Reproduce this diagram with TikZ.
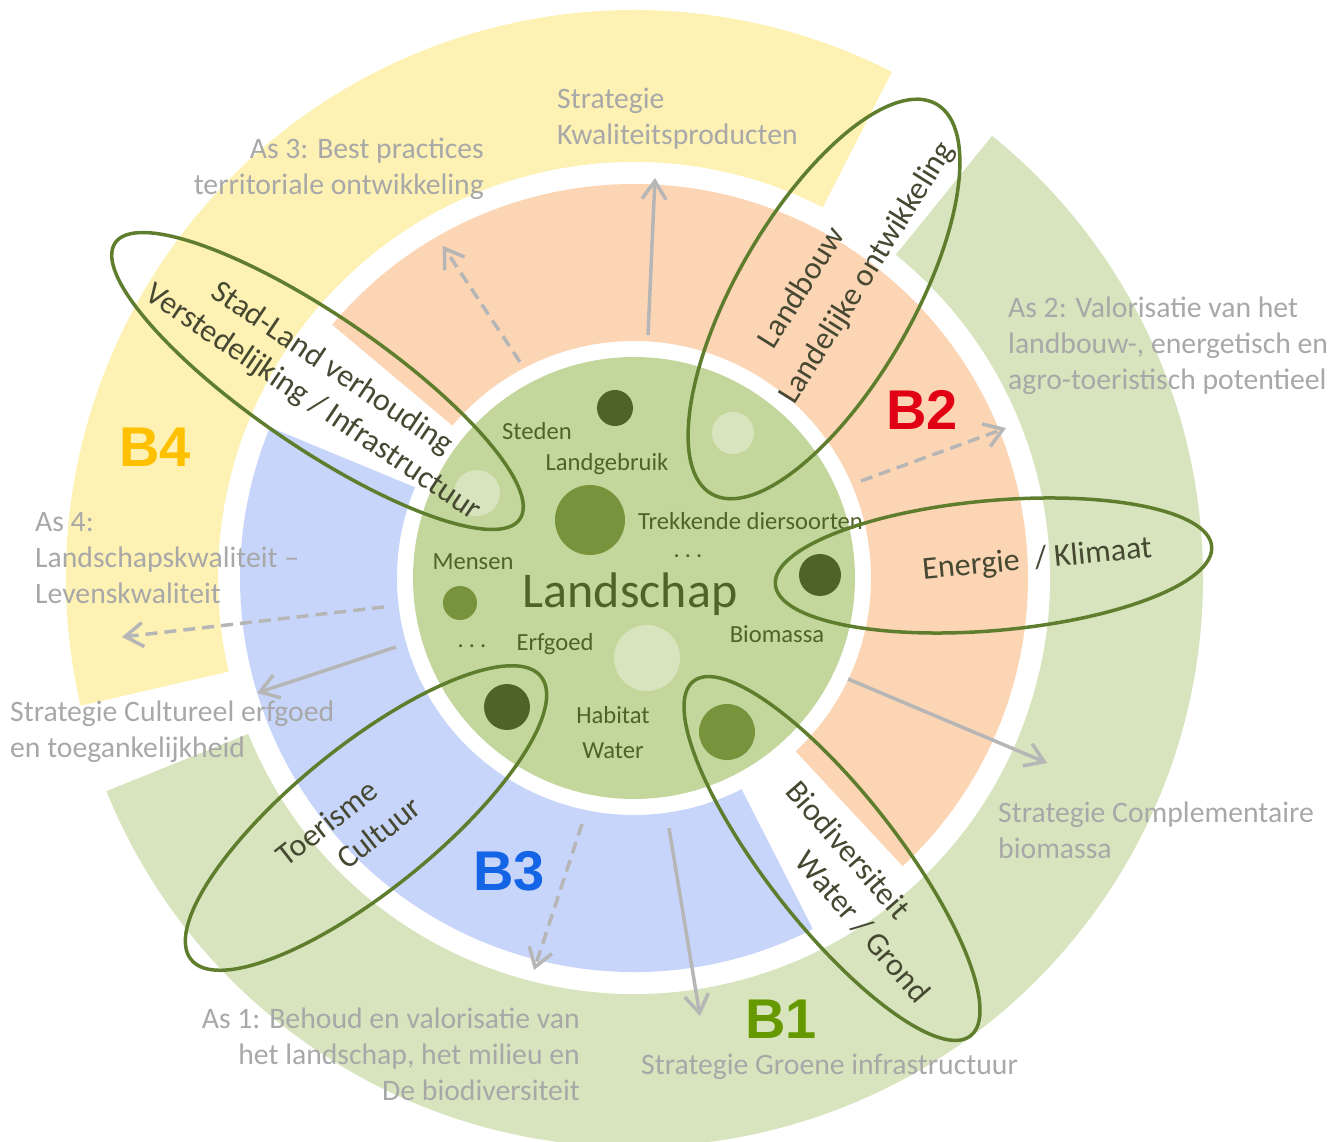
\documentclass[tikz,border=0pt]{standalone}
\usepackage{fontspec}
\setmainfont{Carlito}
\newfontfamily\arialfam{Liberation Sans}
\usetikzlibrary{arrows.meta,shapes.geometric}
\definecolor{yel}{RGB}{254,241,180}
\definecolor{sal}{RGB}{252,213,181}
\definecolor{blu}{RGB}{199,213,250}
\definecolor{ogr}{RGB}{215,228,189}
\definecolor{igr}{RGB}{195,214,155}
\definecolor{dkg}{RGB}{79,98,40}
\definecolor{mdg}{RGB}{119,147,60}
\definecolor{ltg}{RGB}{216,228,190}
\definecolor{ell}{RGB}{95,126,45}
\definecolor{lblc}{RGB}{168,168,168}
\definecolor{arrc}{RGB}{182,182,182}
\definecolor{txtc}{RGB}{70,72,50}
\definecolor{bone}{RGB}{102,153,0}
\definecolor{btwo}{RGB}{225,0,20}
\definecolor{bthree}{RGB}{20,100,230}
\definecolor{bfour}{RGB}{255,192,0}
\newcommand{\ringseg}[5]{\fill[#1] (#2:#4pt) arc[start angle=#2,end angle=#3,radius=#4pt] -- (#3:#5pt) arc[start angle=#3,end angle=#2,radius=#5pt] -- cycle;}
\tikzset{
  dotc/.style={circle, inner sep=0pt},
  petal/.style={ellipse, draw=ell, line width=3.5pt, inner sep=0pt},
  garrow/.style={draw=arrc, line width=3.5pt, -{Straight Barb[length=18pt,width=24pt]}},
  gdash/.style={garrow, dash pattern=on 12pt off 7pt},
  lbl/.style={text=lblc, font=\fontsize{29.7}{36}\selectfont, inner sep=0pt},
  intxt/.style={text=dkg, font=\fontsize{24.6}{29}\selectfont, inner sep=0pt, text height=16pt, text depth=0pt},
  rtxt/.style={text=txtc, font=\fontsize{32}{38}\selectfont, inner sep=0pt, text height=20.8pt, text depth=0pt},
  bigb/.style={font=\arialfam\bfseries\fontsize{56}{60}\selectfont, inner sep=0pt}
}
\begin{document}
\begin{tikzpicture}[x=1pt,y=1pt]
\useasboundingbox (-634,-564) rectangle (709,578);
\clip (-634,-564) rectangle (709,578);
% outer band
\ringseg{yel}{63}{193}{416}{568}
\ringseg{ogr}{-158}{51}{416}{569}
% middle band
\ringseg{sal}{-47}{140}{237}{394}
\ringseg{blu}{157.5}{297}{237}{394}
% inner disk
\node[dotc, fill=igr, minimum size=442pt] (core) at (0,0) {};
% dots
\node[dotc, fill=dkg, minimum size=36pt] (d1) at (-19,170) {};
\node[dotc, fill=ltg, minimum size=42pt] (d2) at (99,145) {};
\node[dotc, fill=ltg, minimum size=46pt] (d3) at (-157,85) {};
\node[dotc, fill=mdg, minimum size=70pt] (d4) at (-44,58) {};
\node[dotc, fill=dkg, minimum size=42pt] (d5) at (186,3) {};
\node[dotc, fill=mdg, minimum size=34pt] (d6) at (-174,-25) {};
\node[dotc, fill=ltg, minimum size=66pt] (d7) at (13,-80) {};
\node[dotc, fill=dkg, minimum size=46pt] (d8) at (-127,-129) {};
\node[dotc, fill=mdg, minimum size=56pt] (d9) at (93,-154) {};
% arrows
\coordinate (a1s) at (14,243);   \coordinate (a1e) at (21,400);
\coordinate (a2s) at (-114,216); \coordinate (a2e) at (-191,332);
\coordinate (a3s) at (227,97);   \coordinate (a3e) at (372,150);
\coordinate (a4s) at (214,-101); \coordinate (a4e) at (413,-185);
\coordinate (a5s) at (35,-250);  \coordinate (a5e) at (66,-438);
\coordinate (a6s) at (-52,-246); \coordinate (a6e) at (-100,-392);
\coordinate (a7s) at (-238,-69); \coordinate (a7e) at (-377,-115);
\coordinate (a8s) at (-250,-29); \coordinate (a8e) at (-512,-59);
\draw[garrow] (a1s) -- (a1e);
\draw[gdash] (a2s) -- (a2e);
\draw[gdash] (a3s) -- (a3e);
\draw[garrow] (a4s) -- (a4e);
\draw[garrow] (a5s) -- (a5e);
\draw[gdash] (a6s) -- (a6e);
\draw[garrow] (a7s) -- (a7e);
\draw[gdash] (a8s) -- (a8e);
% inner texts
\node[intxt] (tSteden) at (-97,146) {Steden};
\node[intxt] (tLandg) at (-27,115) {Landgebruik};
\node[intxt, anchor=west] (tTrek) at (4,56) {Trekkende diersoorten};
\node[intxt, anchor=base] (tdots1) at (54,20) {.\hspace{5pt}.\hspace{5pt}.};
\node[intxt] (tMensen) at (-161,16) {Mensen};
\node[text=dkg, font=\fontsize{50}{56}\selectfont, inner sep=0pt, text height=32pt, text depth=0pt] (tLandschap) at (-4,-14) {Landschap};
\node[intxt] (tBio) at (143,-57) {Biomassa};
\node[intxt, anchor=base] (tdots2) at (-162,-70) {.\hspace{5pt}.\hspace{5pt}.};
\node[intxt] (tErf) at (-79,-65) {Erfgoed};
\node[intxt] (tHab) at (-21,-137) {Habitat};
\node[intxt] (tWat) at (-21,-172) {Water};
% gray labels
\node[lbl, align=right, anchor=east] (as3) at (-150,409) {As 3: Best practices\\territoriale ontwikkeling};
\node[lbl, align=left, anchor=west] (skp) at (-77,459.5) {Strategie\\Kwaliteitsproducten};
\node[lbl, align=left, anchor=west] (as2) at (374,232) {As 2: Valorisatie van het\\landbouw-, energetisch en\\agro-toeristisch potentieel};
\node[lbl, align=left, anchor=west] (as4) at (-599,20) {As 4:\\Landschapskwaliteit –\\Levenskwaliteit};
\node[lbl, align=left, anchor=west] (sce) at (-624,-153.5) {Strategie Cultureel erfgoed\\en toegankelijkheid};
\node[lbl, align=left, anchor=west] (scb) at (364,-252) {Strategie Complementaire\\biomassa};
\node[lbl, align=right, anchor=east] (as1) at (-54,-476) {As 1: Behoud en valorisatie van\\het landschap, het milieu en\\De biodiversiteit};
\node[lbl, anchor=west] (sgi) at (7,-489) {Strategie Groene infrastructuur};
% big labels
\node[bigb, text=bfour] (B4) at (-479,131) {B4};
\node[bigb, text=btwo] (B2) at (288,168) {B2};
\node[bigb, text=bthree] (B3) at (-125,-293) {B3};
\node[bigb, text=bone] (B1) at (147,-441) {B1};
% rotated labels
\node[rtxt, rotate=-34] (rStad) at (-301,211) {Stad-Land verhouding};
\node[rtxt, rotate=-34] (rVer) at (-320,177) {Verstedelijking / Infrastructuur};
\node[rtxt, rotate=58] (rLandb) at (167,291) {Landbouw};
\node[rtxt, rotate=58] (rLandl) at (232,306) {Landelijke ontwikkeling};
\node[rtxt, rotate=5.5] (rEn) at (403,20) {Energie\hspace{8pt} / Klimaat};
\node[rtxt, rotate=38] (rToer) at (-307,-245) {Toerisme};
\node[rtxt, rotate=38] (rCult) at (-255,-255) {Cultuur};
\node[rtxt, rotate=-49] (rBiod) at (214,-272) {Biodiversiteit};
\node[rtxt, rotate=-49] (rWat) at (229,-349) {Water / Grond};
% petals
\node[petal, minimum width=490pt, minimum height=132pt, rotate=-34.3] (pStad) at (-316.5,197) {};
\node[petal, minimum width=450pt, minimum height=176pt, rotate=60] (pLand) at (190,279) {};
\node[petal, minimum width=438pt, minimum height=130pt, rotate=5] (pEn) at (359.5,12.5) {};
\node[petal, minimum width=450pt, minimum height=132pt, rotate=-52] (pBio) at (198,-280.5) {};
\node[petal, minimum width=450pt, minimum height=144pt, rotate=39] (pToer) at (-268,-240) {};
\end{tikzpicture}
\end{document}
